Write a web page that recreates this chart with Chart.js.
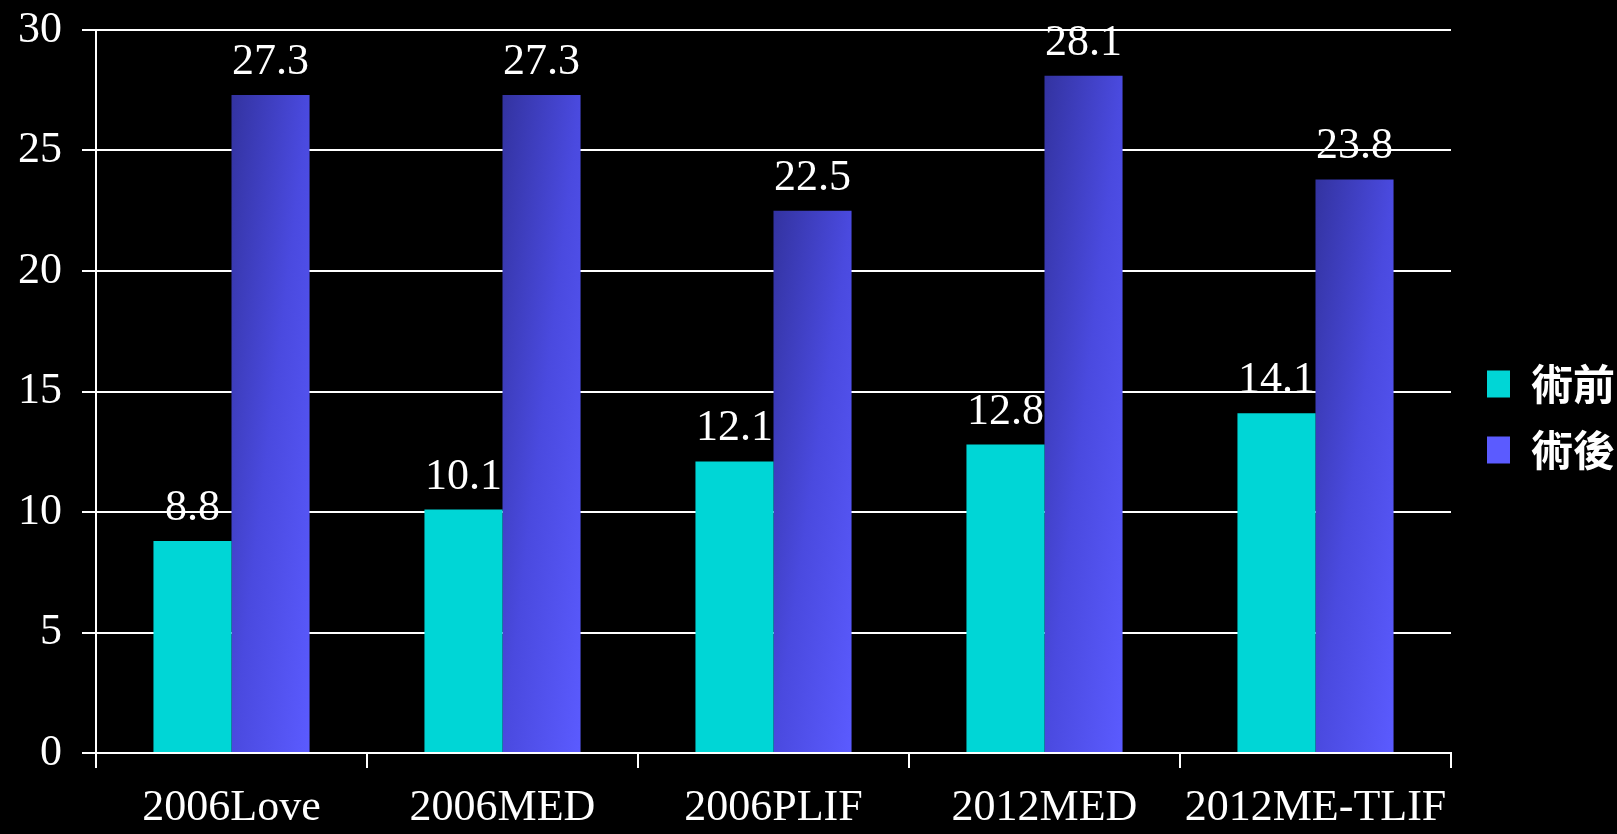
<!DOCTYPE html>
<html>
<head>
<meta charset="utf-8">
<script src="https://cdn.jsdelivr.net/npm/chart.js@4/dist/chart.umd.min.js"></script>
<style>
  html, body { margin: 0; padding: 0; background: #000; overflow: hidden; }
  #wrap { position: relative; width: 1617px; height: 834px; }
</style>
</head>
<body>
<div id="wrap"><canvas id="chart"></canvas></div>
<script>
const categories = ['2006Love', '2006MED', '2006PLIF', '2012MED', '2012ME-TLIF'];
const preOp = [8.8, 10.1, 12.1, 12.8, 14.1];
const postOp = [27.3, 27.3, 22.5, 28.1, 23.8];
const seriesNames = ['術前', '術後'];
const yTicks = [0, 5, 10, 15, 20, 25, 30];

const CAT_PCT = 0.576;
const SERIF = '"Liberation Serif", "Times New Roman", serif';

// blue bars: diagonal gradient inside each bar (dark top-left -> light bottom-right)
function blueFill(c) {
  const chart = c.chart;
  if (!chart.chartArea || c.dataIndex === undefined || !chart.scales.x) return '#4848d6';
  const xs = chart.scales.x, ys = chart.scales.y;
  const w = (xs.getPixelForValue(1) - xs.getPixelForValue(0)) * CAT_PCT / 2;
  const left = xs.getPixelForValue(c.dataIndex);
  const top = ys.getPixelForValue(c.raw);
  const h = ys.getPixelForValue(0) - top;
  if (!(w > 0) || !(h > 0)) return '#4848d6';
  const k = 2 * w * h / (w * w + h * h);
  const g = chart.ctx.createLinearGradient(left, top, left + k * h, top + k * w);
  g.addColorStop(0, '#3333a0');
  g.addColorStop(0.5, '#4a4adf');
  g.addColorStop(1, '#5b5bff');
  return g;
}

const valueLabels = {
  id: 'valueLabels',
  afterDatasetsDraw(chart) {
    const ctx = chart.ctx;
    ctx.save();
    ctx.fillStyle = '#fff';
    ctx.font = '44px ' + SERIF;
    ctx.textAlign = 'center';
    ctx.textBaseline = 'alphabetic';
    chart.data.datasets.forEach((ds, i) => {
      chart.getDatasetMeta(i).data.forEach((bar, j) => {
        ctx.fillText(ds.data[j].toFixed(1), bar.x, bar.y - 21);
      });
    });
    ctx.restore();
  }
};

Chart.defaults.color = '#fff';

new Chart(document.getElementById('chart'), {
  type: 'bar',
  data: {
    labels: categories,
    datasets: [
      { label: seriesNames[0], data: preOp, backgroundColor: '#00d6d6',
        categoryPercentage: CAT_PCT, barPercentage: 1 },
      { label: seriesNames[1], data: postOp, backgroundColor: blueFill,
        categoryPercentage: CAT_PCT, barPercentage: 1 }
    ]
  },
  options: {
    responsive: true,
    maintainAspectRatio: false,
    animation: false,
    layout: { padding: 0 },
    plugins: {
      tooltip: { enabled: false },
      legend: {
        position: 'right',
        maxWidth: 154,
        labels: {
          color: '#fff',
          boxWidth: 23,
          boxHeight: 27,
          padding: 24,
          font: { family: '"Noto Sans CJK TC", "Noto Sans CJK SC", sans-serif', size: 42, weight: 'bold' }
        }
      }
    },
    scales: {
      x: {
        grid: { drawOnChartArea: false, drawTicks: true, tickLength: 15, color: '#fff', lineWidth: 2 },
        border: { display: true, color: '#fff', width: 2 },
        ticks: { color: '#fff', padding: 14, font: { family: SERIF, size: 44 } },
        afterFit: s => { s.height = 81; s.paddingLeft = 0; s.paddingRight = 0; }
      },
      xTop: {
        position: 'top',
        type: 'category',
        grid: { display: false },
        border: { display: false },
        ticks: { display: false },
        afterFit: s => { s.height = 30; s.paddingLeft = 0; s.paddingRight = 0; }
      },
      y: {
        min: 0,
        max: 30,
        afterBuildTicks: s => { s.ticks = yTicks.map(v => ({ value: v })); },
        grid: { color: '#fff', lineWidth: 2, tickLength: 14 },
        border: { display: true, color: '#fff', width: 2 },
        ticks: { color: '#fff', padding: 20, font: { family: SERIF, size: 44 } },
        afterFit: s => { s.width = 96; s.paddingTop = 0; s.paddingBottom = 0; }
      },
      yRight: {
        position: 'right',
        type: 'linear',
        grid: { display: false },
        border: { display: false },
        ticks: { display: false },
        afterFit: s => { s.width = 12; s.paddingTop = 0; s.paddingBottom = 0; }
      }
    }
  },
  plugins: [valueLabels]
});
</script>
</body>
</html>
